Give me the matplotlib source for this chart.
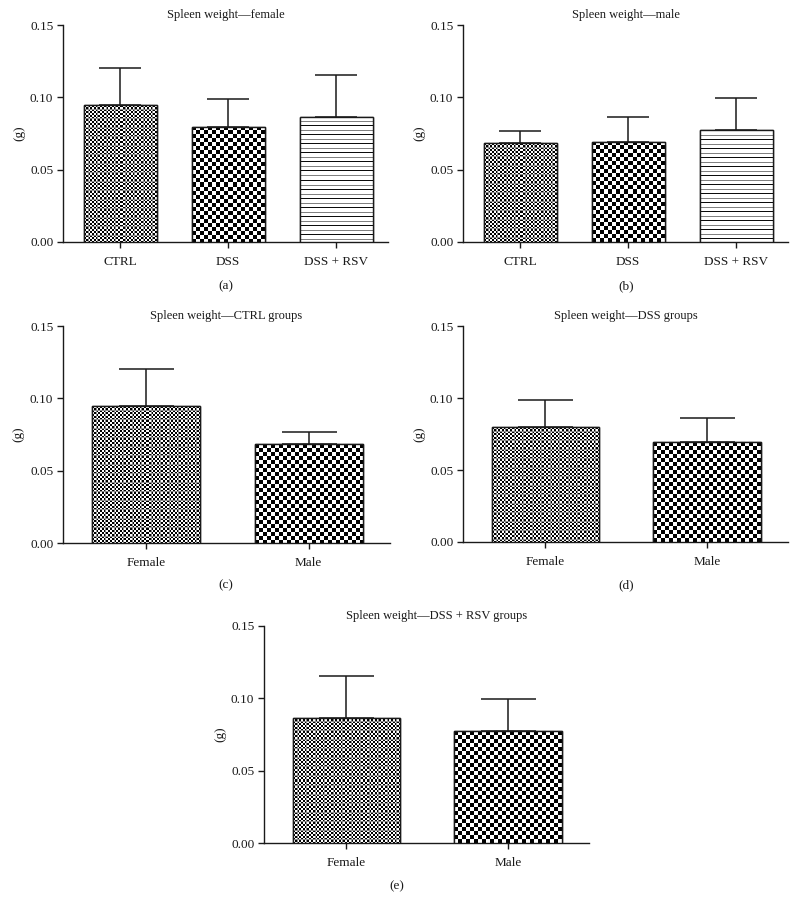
import numpy as np
import matplotlib
matplotlib.use("Agg")
import matplotlib.pyplot as plt

plt.rcParams['font.family'] = ['Liberation Serif', 'DejaVu Serif']

# ---------------- data ----------------
groups = ['CTRL', 'DSS', 'DSS + RSV']
sexes = ['Female', 'Male']
female_mean = [0.0945, 0.0797, 0.0865]
female_sem = [0.0260, 0.0192, 0.0287]
male_mean = [0.0684, 0.0693, 0.0774]
male_sem = [0.0083, 0.0169, 0.0218]
y_ticks = [0.00, 0.05, 0.10, 0.15]
y_ticklabels = ['0.00', '0.05', '0.10', '0.15']

W, H = 797, 913
fig = plt.figure(figsize=(W / 100, H / 100), dpi=100)
INK = '#1a1a1a'


def add_ax(l, r, top, bottom):
    return fig.add_axes([l / W, 1 - bottom / H, (r - l) / W, (bottom - top) / H])


def pattern(kind, w, h):
    yy, xx = np.mgrid[0:h, 0:w]
    if kind == 'fine':
        arr = ((xx // 2 + yy // 2) % 2).astype(float)
        arr[:, (xx[0] % 9) == 4] = 0.55
        arr[(yy[:, 0] % 9) == 4, :] = 0.55
    elif kind == 'coarse':
        arr = ((xx // 4 + yy // 4) % 2).astype(float)
    else:
        arr = np.ones((h, w))
        for y in range(h):
            ph = (y * 2) % 9
            if ph in (0, 1):
                idx = (y * 2) // 9
                arr[y, :] = 0.05 if idx % 2 == 0 else 0.5
    return arr


def draw_panel(ax, cats, means, sems, kinds, xlim, width, capsize, title, title_x=0.5):
    x = np.arange(len(cats))
    ax.set_xlim(*xlim)
    ax.set_ylim(0, 0.15)
    ax.errorbar(x, means, yerr=[np.zeros(len(sems)), sems], fmt='none',
                ecolor=INK, elinewidth=1.1, capsize=capsize, capthick=1.1, zorder=2)
    bars = ax.bar(x, means, width=width, facecolor='white', edgecolor=INK,
                  linewidth=1.0, zorder=3)
    for b, k in zip(bars, kinds):
        x0, x1 = b.get_x(), b.get_x() + b.get_width()
        y0, y1 = 0, b.get_height()
        p0 = ax.transData.transform((x0, y0))
        p1 = ax.transData.transform((x1, y1))
        wpx = int(round(p1[0] - p0[0]))
        hpx = int(round(p1[1] - p0[1]))
        img = pattern(k, max(wpx, 1), max(hpx, 1))
        im = ax.imshow(img, cmap='gray', vmin=0, vmax=1, extent=[x0, x1, y0, y1],
                       origin='upper', aspect='auto', interpolation='nearest',
                       zorder=3.5)
        im.set_clip_path(b)
        ax.bar(b.get_x() + b.get_width() / 2, b.get_height(), width=width,
               facecolor='none', edgecolor=INK, linewidth=1.0, zorder=4)
    ax.set_xlim(*xlim)
    ax.set_ylim(0, 0.15)
    ax.set_xticks(x)
    ax.set_xticklabels(cats, fontsize=9.5)
    ax.set_yticks(y_ticks)
    ax.set_yticklabels(y_ticklabels, fontsize=9.5)
    for s in ['top', 'right']:
        ax.spines[s].set_visible(False)
    for s in ['left', 'bottom']:
        ax.spines[s].set_linewidth(1.0)
        ax.spines[s].set_color(INK)
    ax.tick_params(axis='both', direction='out', length=4, width=1.0, colors=INK)
    ax.tick_params(axis='x', pad=6)
    ax.tick_params(axis='y', pad=3)
    ax.set_ylabel('(g)', fontsize=9.5, color=INK)
    ax.yaxis.set_label_coords(-0.117, 0.5)
    ax.set_title(title, fontsize=9, pad=5, x=title_x, color=INK)


kinds3 = ['fine', 'coarse', 'lines']
kinds2 = ['fine', 'coarse']
xlim3 = (-0.528, 2.48)
xlim2 = (-0.51, 1.50)

ax_a = add_ax(63, 388, 25, 242)
draw_panel(ax_a, groups, female_mean, female_sem, kinds3, xlim3, 0.676, 14.8,
           'Spleen weight\u2014female')
ax_b = add_ax(463, 788, 25, 242)
draw_panel(ax_b, groups, male_mean, male_sem, kinds3, xlim3, 0.676, 14.8,
           'Spleen weight\u2014male')

for (l, r, top, bot), gi, ttl in [((63, 390, 326, 543), 0, 'Spleen weight\u2014CTRL groups'),
                                   ((463, 788, 326, 542), 1, 'Spleen weight\u2014DSS groups')]:
    ax = add_ax(l, r, top, bot)
    draw_panel(ax, sexes, [female_mean[gi], male_mean[gi]], [female_sem[gi], male_sem[gi]],
               kinds2, xlim2, 0.665, 19.8, ttl)

ax_e = add_ax(264, 589, 626, 843)
draw_panel(ax_e, sexes, [female_mean[2], male_mean[2]], [female_sem[2], male_sem[2]],
           kinds2, xlim2, 0.665, 19.8, 'Spleen weight\u2014DSS + RSV groups', title_x=0.53)

for lab, xp, yp in [('(a)', 226, 286), ('(b)', 626, 286), ('(c)', 226, 585),
                    ('(d)', 626, 585), ('(e)', 397, 886)]:
    fig.text(xp / W, 1 - yp / H, lab, ha='center', va='center', fontsize=9.5, color=INK)

fig.savefig('out.png', dpi=100)
